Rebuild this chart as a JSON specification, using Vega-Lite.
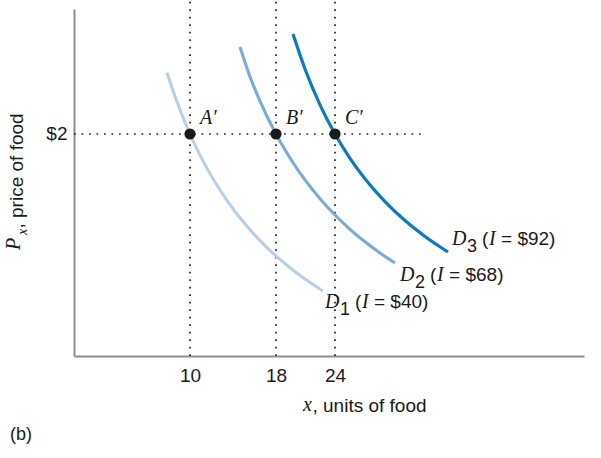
{
  "$schema": "https://vega.github.io/schema/vega-lite/v6.json",
  "autosize": "none",
  "width": 510,
  "height": 347,
  "padding": {"left": 74, "top": 9, "right": 17, "bottom": 102},
  "background": "white",
  "config": {
    "view": {"stroke": null},
    "font": "Liberation Sans",
    "axis": {"grid": false, "ticks": false, "domainColor": "#8f8f8f", "domainWidth": 2, "labelColor": "#1a1a1a", "titleColor": "#1a1a1a", "titleFontWeight": "normal", "labelFont": "Liberation Sans", "titleFont": "Liberation Sans"}
  },
  "datasets": {
    "curves": [
      {"curve": "D1", "x": 8.017, "p": 2.552},
      {"curve": "D1", "x": 8.707, "p": 2.339},
      {"curve": "D1", "x": 9.569, "p": 2.105},
      {"curve": "D1", "x": 10.0, "p": 2.0},
      {"curve": "D1", "x": 10.93, "p": 1.81},
      {"curve": "D1", "x": 11.86, "p": 1.643},
      {"curve": "D1", "x": 12.791, "p": 1.495},
      {"curve": "D1", "x": 14.186, "p": 1.302},
      {"curve": "D1", "x": 15.581, "p": 1.137},
      {"curve": "D1", "x": 16.977, "p": 0.994},
      {"curve": "D1", "x": 18.0, "p": 0.901},
      {"curve": "D1", "x": 19.424, "p": 0.795},
      {"curve": "D1", "x": 20.949, "p": 0.693},
      {"curve": "D1", "x": 22.78, "p": 0.586},
      {"curve": "D2", "x": 14.651, "p": 2.784},
      {"curve": "D2", "x": 15.581, "p": 2.516},
      {"curve": "D2", "x": 16.512, "p": 2.296},
      {"curve": "D2", "x": 18.0, "p": 2.0},
      {"curve": "D2", "x": 19.424, "p": 1.784},
      {"curve": "D2", "x": 20.949, "p": 1.586},
      {"curve": "D2", "x": 22.475, "p": 1.417},
      {"curve": "D2", "x": 24.0, "p": 1.27},
      {"curve": "D2", "x": 25.446, "p": 1.141},
      {"curve": "D2", "x": 26.892, "p": 1.029},
      {"curve": "D2", "x": 28.337, "p": 0.928},
      {"curve": "D2", "x": 29.783, "p": 0.838},
      {"curve": "D3", "x": 19.729, "p": 2.901},
      {"curve": "D3", "x": 20.949, "p": 2.586},
      {"curve": "D3", "x": 22.475, "p": 2.263},
      {"curve": "D3", "x": 24.0, "p": 2.0},
      {"curve": "D3", "x": 25.446, "p": 1.781},
      {"curve": "D3", "x": 26.892, "p": 1.596},
      {"curve": "D3", "x": 28.819, "p": 1.391},
      {"curve": "D3", "x": 30.747, "p": 1.22},
      {"curve": "D3", "x": 32.675, "p": 1.077},
      {"curve": "D3", "x": 34.892, "p": 0.937}
    ],
    "points": [
      {"name": "A′", "x": 10, "p": 2},
      {"name": "B′", "x": 18, "p": 2},
      {"name": "C′", "x": 24, "p": 2}
    ],
    "labels": [
      {"curve": "D1", "sub": "1", "inc": "= $40)", "x": 22.98, "p": 0.432},
      {"curve": "D2", "sub": "2", "inc": "= $68)", "x": 30.27, "p": 0.676},
      {"curve": "D3", "sub": "3", "inc": "= $92)", "x": 35.28, "p": 1.0}
    ],
    "vguides": [
      {"x": 10, "p0": 0, "p1": 3.207},
      {"x": 18, "p0": 0, "p1": 3.207},
      {"x": 24, "p0": 0, "p1": 3.207}
    ],
    "hguides": [
      {"x0": 0, "x1": 32.39, "p": 2}
    ],
    "notes": [
      {"kind": "P", "t": "P", "x": -4.655, "p": 0.955},
      {"kind": "Psub", "t": "x", "x": -4.052, "p": 1.09},
      {"kind": "xt", "t": "x", "x": 20.746, "p": -0.495},
      {"kind": "b", "t": "(b)", "x": -5.517, "p": -0.757}
    ]
  },
  "encoding": {
    "x": {
      "field": "x", "type": "quantitative",
      "scale": {"domain": [0, 10, 18, 24, 48], "range": [0, 116, 202, 261, 510], "nice": false, "zero": false},
      "axis": {"values": [10, 18, 24], "labelFontSize": 19, "labelPadding": 10, "labelFlush": false, "labelOverlap": false,
        "title": ", units of food", "titleFontSize": 19, "titleX": 238, "titleY": 55, "titleAlign": "left", "titleBaseline": "alphabetic", "titleAnchor": "start"}
    },
    "y": {
      "field": "p", "type": "quantitative",
      "scale": {"domain": [0, 3.126], "nice": false, "zero": false},
      "axis": {"values": [2], "labelExpr": "'$2'", "labelFontSize": 19, "labelPadding": 7,
        "title": ", price of food", "titleFontSize": 19, "titleAngle": 270, "titleX": -52, "titleY": 219, "titleAlign": "left", "titleBaseline": "alphabetic", "titleAnchor": "start"}
    }
  },
  "layer": [
    {
      "data": {"name": "vguides"},
      "mark": {"type": "rule", "color": "#222222", "strokeWidth": 1.7, "strokeDash": [1.7, 5.8]},
      "encoding": {"y": {"field": "p0", "type": "quantitative"}, "y2": {"field": "p1"}}
    },
    {
      "data": {"name": "hguides"},
      "mark": {"type": "rule", "color": "#222222", "strokeWidth": 1.7, "strokeDash": [1.7, 5.8]},
      "encoding": {"x": {"field": "x0", "type": "quantitative"}, "x2": {"field": "x1"}}
    },
    {
      "data": {"name": "curves"},
      "mark": {"type": "line", "interpolate": "monotone", "strokeCap": "butt"},
      "encoding": {
        "detail": {"field": "curve"},
        "color": {"field": "curve", "type": "nominal", "scale": {"domain": ["D1", "D2", "D3"], "range": ["#b8cee7", "#7aacd9", "#0a7bc2"]}, "legend": null},
        "strokeWidth": {"field": "curve", "type": "nominal", "scale": {"domain": ["D1", "D2", "D3"], "range": [3, 3.2, 3.8]}, "legend": null}
      }
    },
    {
      "data": {"name": "points"},
      "mark": {"type": "point", "shape": "circle", "filled": true, "size": 125, "color": "#1a1a1a", "opacity": 1}
    },
    {
      "data": {"name": "points"},
      "mark": {"type": "text", "font": "Liberation Serif", "fontStyle": "italic", "fontSize": 20, "align": "left", "baseline": "alphabetic", "dx": 10, "dy": -10, "color": "#1a1a1a"},
      "encoding": {"text": {"field": "name"}}
    },
    {
      "data": {"name": "labels"},
      "mark": {"type": "text", "text": "D", "font": "Liberation Serif", "fontStyle": "italic", "fontSize": 20, "align": "left", "baseline": "alphabetic", "color": "#1a1a1a"}
    },
    {
      "data": {"name": "labels"},
      "mark": {"type": "text", "font": "Liberation Sans", "fontSize": 18, "align": "left", "baseline": "alphabetic", "dx": 15, "dy": 7, "color": "#1a1a1a"},
      "encoding": {"text": {"field": "sub"}}
    },
    {
      "data": {"name": "labels"},
      "mark": {"type": "text", "text": "(", "font": "Liberation Sans", "fontSize": 19, "align": "left", "baseline": "alphabetic", "dx": 30, "color": "#1a1a1a"}
    },
    {
      "data": {"name": "labels"},
      "mark": {"type": "text", "text": "I", "font": "Liberation Serif", "fontStyle": "italic", "fontSize": 20, "align": "left", "baseline": "alphabetic", "dx": 37, "color": "#1a1a1a"}
    },
    {
      "data": {"name": "labels"},
      "mark": {"type": "text", "font": "Liberation Sans", "fontSize": 19, "align": "left", "baseline": "alphabetic", "dx": 49, "color": "#1a1a1a"},
      "encoding": {"text": {"field": "inc"}}
    },
    {
      "data": {"name": "notes"},
      "transform": [{"filter": "datum.kind === 'P'"}],
      "mark": {"type": "text", "font": "Liberation Serif", "fontStyle": "italic", "fontSize": 20, "angle": 270, "align": "left", "baseline": "alphabetic", "color": "#1a1a1a"},
      "encoding": {"text": {"field": "t"}}
    },
    {
      "data": {"name": "notes"},
      "transform": [{"filter": "datum.kind === 'Psub'"}],
      "mark": {"type": "text", "font": "Liberation Serif", "fontStyle": "italic", "fontSize": 14, "angle": 270, "align": "left", "baseline": "alphabetic", "color": "#1a1a1a"},
      "encoding": {"text": {"field": "t"}}
    },
    {
      "data": {"name": "notes"},
      "transform": [{"filter": "datum.kind === 'xt'"}],
      "mark": {"type": "text", "font": "Liberation Serif", "fontStyle": "italic", "fontSize": 20, "align": "left", "baseline": "alphabetic", "color": "#1a1a1a"},
      "encoding": {"text": {"field": "t"}}
    },
    {
      "data": {"name": "notes"},
      "transform": [{"filter": "datum.kind === 'b'"}],
      "mark": {"type": "text", "font": "Liberation Sans", "fontSize": 18, "align": "left", "baseline": "alphabetic", "color": "#1a1a1a"},
      "encoding": {"text": {"field": "t"}}
    }
  ]
}
